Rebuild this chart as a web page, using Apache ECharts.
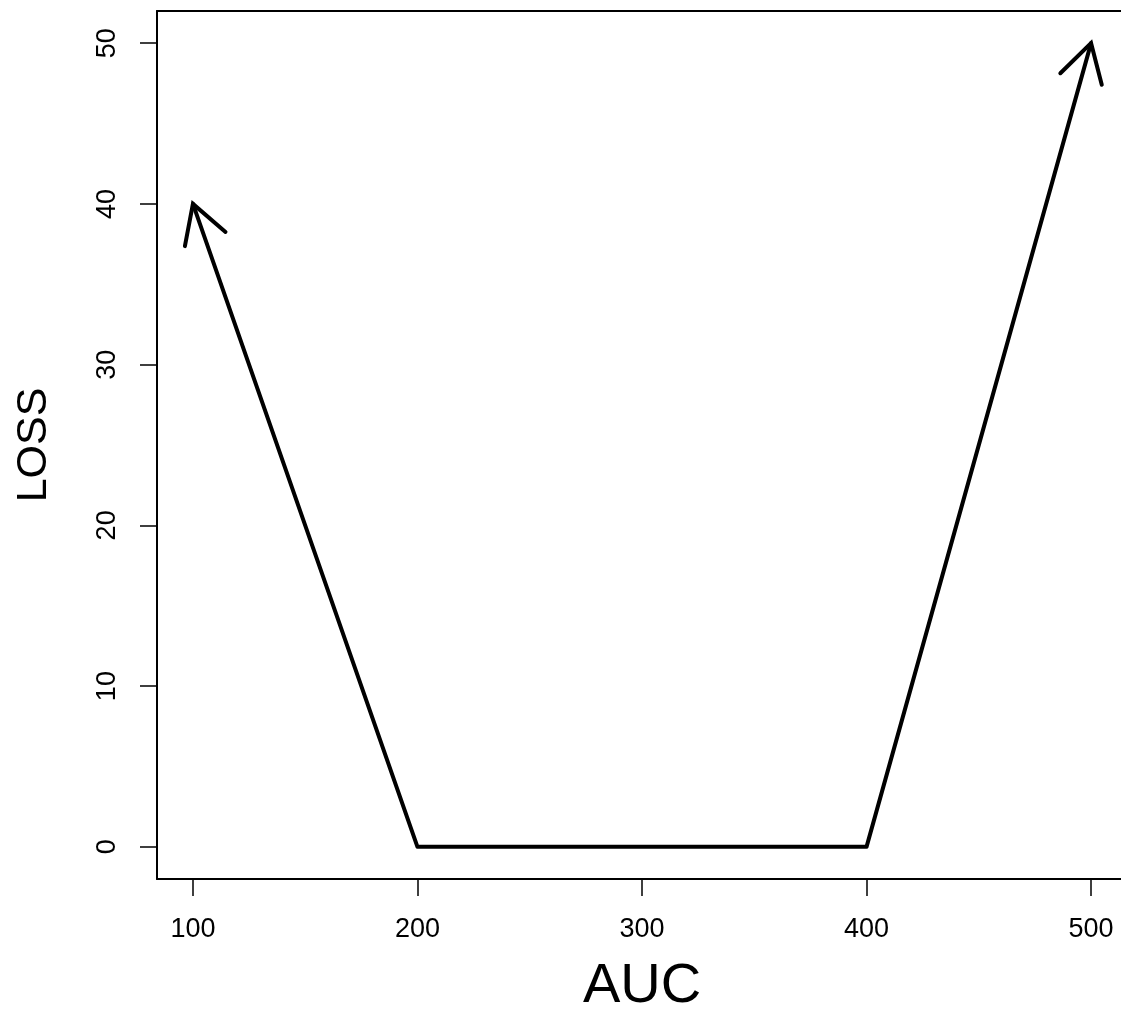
<!DOCTYPE html>
<html>
<head>
<meta charset="utf-8">
<script src="https://cdn.jsdelivr.net/npm/echarts@6/dist/echarts.min.js"></script>
<style>
html,body{margin:0;padding:0;background:#fff;}
#chart{width:1121px;height:1011px;}
</style>
</head>
<body>
<div id="chart"></div>
<script>
// Data
var pathX = [100, 200, 400, 500];
var pathY = [40, 0, 0, 50];
// arrows: [fromX, fromY, toX, toY] (arrowhead at "to")
var arrowFromX = [200, 400];
var arrowFromY = [0, 0];
var arrowToX = [100, 500];
var arrowToY = [40, 50];
var xTicks = [100, 200, 300, 400, 500];
var yTicks = [0, 10, 20, 30, 40, 50];
var xTitle = 'AUC';
var yTitle = 'LOSS';

var FONT = '"Liberation Sans", Arial, Helvetica, sans-serif';

var lineData = pathX.map(function (x, i) { return [x, pathY[i]]; });
var arrowData = arrowFromX.map(function (x, i) {
  return [x, arrowFromY[i], arrowToX[i], arrowToY[i]];
});

var chart = echarts.init(document.getElementById('chart'));
chart.setOption({
  animation: false,
  backgroundColor: '#fff',
  grid: {
    left: 157, top: 11, width: 970, height: 868,
    containLabel: false, outerBoundsMode: 'none', show: false
  },
  xAxis: [{
    type: 'value', min: 84, max: 516, position: 'bottom',
    name: xTitle, nameLocation: 'middle', nameGap: 80,
    nameTextStyle: { fontFamily: FONT, fontSize: 56, color: '#000' },
    axisLine: { show: true, onZero: false, lineStyle: { color: '#000', width: 2 } },
    splitLine: { show: false },
    axisTick: { show: true, customValues: xTicks, length: 17, lineStyle: { color: '#000', width: 1.5 } },
    axisLabel: { show: true, customValues: xTicks, margin: 37, fontFamily: FONT, fontSize: 27, color: '#000' }
  }, {
    type: 'value', min: 84, max: 516, position: 'top',
    axisLine: { show: true, onZero: false, lineStyle: { color: '#000', width: 2 } },
    splitLine: { show: false }, axisTick: { show: false }, axisLabel: { show: false }
  }],
  yAxis: {
    type: 'value', min: -2, max: 52,
    name: yTitle, nameLocation: 'middle', nameGap: 101,
    nameTextStyle: { fontFamily: FONT, fontSize: 43, color: '#000' },
    axisLine: { show: true, onZero: false, lineStyle: { color: '#000', width: 2 } },
    splitLine: { show: false },
    axisTick: { show: true, customValues: yTicks, length: 17, lineStyle: { color: '#000', width: 1.5 } },
    axisLabel: { show: true, customValues: yTicks, rotate: 90, margin: 36, fontFamily: FONT, fontSize: 27, color: '#000' }
  },
  series: [
    {
      type: 'line',
      data: lineData,
      showSymbol: false,
      symbol: 'none',
      lineStyle: { color: '#000', width: 4, cap: 'round', join: 'round' },
      silent: true
    },
    {
      type: 'custom',
      data: arrowData,
      silent: true,
      renderItem: function (params, api) {
        var from = api.coord([api.value(0), api.value(1)]);
        var to = api.coord([api.value(2), api.value(3)]);
        var dx = from[0] - to[0], dy = from[1] - to[1];
        var ang = Math.atan2(dy, dx);
        var len = 43, a = Math.PI / 6;
        var p1 = [to[0] + len * Math.cos(ang + a), to[1] + len * Math.sin(ang + a)];
        var p2 = [to[0] + len * Math.cos(ang - a), to[1] + len * Math.sin(ang - a)];
        return {
          type: 'polyline',
          shape: { points: [p1, to, p2] },
          style: { stroke: '#000', lineWidth: 4, fill: null, lineCap: 'round', lineJoin: 'miter' }
        };
      }
    }
  ]
});
</script>
</body>
</html>
